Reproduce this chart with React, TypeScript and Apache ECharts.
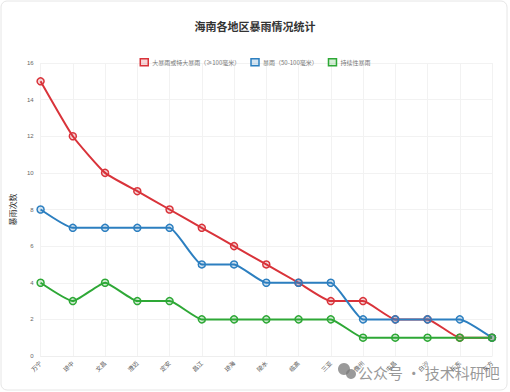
import React, { useEffect, useRef } from "react";
import * as echarts from "echarts";

const categories = ["万宁", "琼中", "文昌", "澄迈", "定安", "昌江", "琼海", "陵水", "临高", "三亚", "儋州", "屯昌", "白沙", "乐东", "东方"];
const heavyStorm = [15, 12, 10, 9, 8, 7, 6, 5, 4, 3, 3, 2, 2, 1, 1];
const storm = [8, 7, 7, 7, 7, 5, 5, 4, 4, 4, 2, 2, 2, 2, 1];
const persistent = [4, 3, 4, 3, 3, 2, 2, 2, 2, 2, 1, 1, 1, 1, 1];
const seriesNames = ["大暴雨或特大暴雨（≥100毫米）", "暴雨（50-100毫米）", "持续性暴雨"];
const colors = ["#d9333a", "#2c7fc0", "#2ea836"];
const fills = ["rgba(217,51,58,0.2)", "rgba(44,127,192,0.2)", "rgba(46,168,54,0.2)"];

export default function App() {
  const ref = useRef<HTMLDivElement>(null);
  useEffect(() => {
    const chart = echarts.init(ref.current!, null, { renderer: "svg" });
    const datas = [heavyStorm, storm, persistent];
    chart.setOption({
      animation: false,
      backgroundColor: "#ffffff",
      title: {
        text: "海南各地区暴雨情况统计",
        left: "center",
        top: 15,
        textStyle: { fontSize: 11, fontWeight: "bold", color: "#333", fontFamily: "Noto Sans CJK SC" },
      },
      legend: {
        top: 53,
        left: "center",
        itemWidth: 8,
        itemHeight: 7,
        itemGap: 10,
        icon: "rect",
        textStyle: { fontSize: 6, color: "#777", fontFamily: "Noto Sans CJK SC", padding: [0, 0, 0, -1] },
        data: seriesNames.map((n, i) => ({
          name: n,
          itemStyle: { color: fills[i], borderColor: colors[i], borderWidth: 1.5 },
        })),
      },
      grid: { left: 37, right: 18, top: 63, bottom: 36, containLabel: false },
      xAxis: {
        type: "category",
        data: categories,
        boundaryGap: false,
        axisLine: { lineStyle: { color: "#eeeeee" } },
        axisTick: { show: false },
        axisLabel: { rotate: 45, fontSize: 6, color: "#555", margin: 6, interval: 0, fontFamily: "Noto Sans CJK SC" },
        splitLine: { show: true, lineStyle: { color: "#f2f2f2" } },
      },
      yAxis: {
        type: "value",
        min: 0,
        max: 16,
        interval: 2,
        name: "暴雨次数",
        nameLocation: "middle",
        nameGap: 14,
        nameRotate: 90,
        nameTextStyle: { fontSize: 8, color: "#333", fontFamily: "Noto Sans CJK SC" },
        axisLine: { show: false },
        axisTick: { show: false },
        axisLabel: { fontSize: 6, color: "#666", margin: 7 },
        splitLine: { lineStyle: { color: "#f2f2f2" } },
      },
      series: seriesNames.map((n, i) => ({
        name: n,
        type: "line",
        data: datas[i],
        smooth: 0.15,
        symbol: "circle",
        symbolSize: 7,
        lineStyle: { color: colors[i], width: 2 },
        itemStyle: { color: fills[i], borderColor: colors[i], borderWidth: 1.5 },
        emphasis: { disabled: true },
      })),
      graphic: [
        {
          type: "rect",
          shape: { x: 1, y: 1, width: 506, height: 389, r: 6 },
          style: { fill: "none", stroke: "#e6e6e6", lineWidth: 1 },
          silent: true,
        },
        { type: "circle", shape: { cx: 344, cy: 369, r: 6 }, style: { fill: "rgba(120,120,120,0.75)" }, silent: true },
        { type: "circle", shape: { cx: 351, cy: 374, r: 5 }, style: { fill: "rgba(120,120,120,0.75)" }, silent: true },
        {
          type: "text",
          x: 358,
          y: 372,
          style: {
            text: "公众号 · 技术科研吧",
            fontSize: 15,
            fill: "rgba(120,120,120,0.75)",
            fontFamily: "Noto Sans CJK SC",
            verticalAlign: "middle",
          },
          silent: true,
        },
      ],
    });
    return () => chart.dispose();
  }, []);
  return <div ref={ref} style={{ position: "absolute", left: 0, top: 0, width: 510, height: 392 }} />;
}
